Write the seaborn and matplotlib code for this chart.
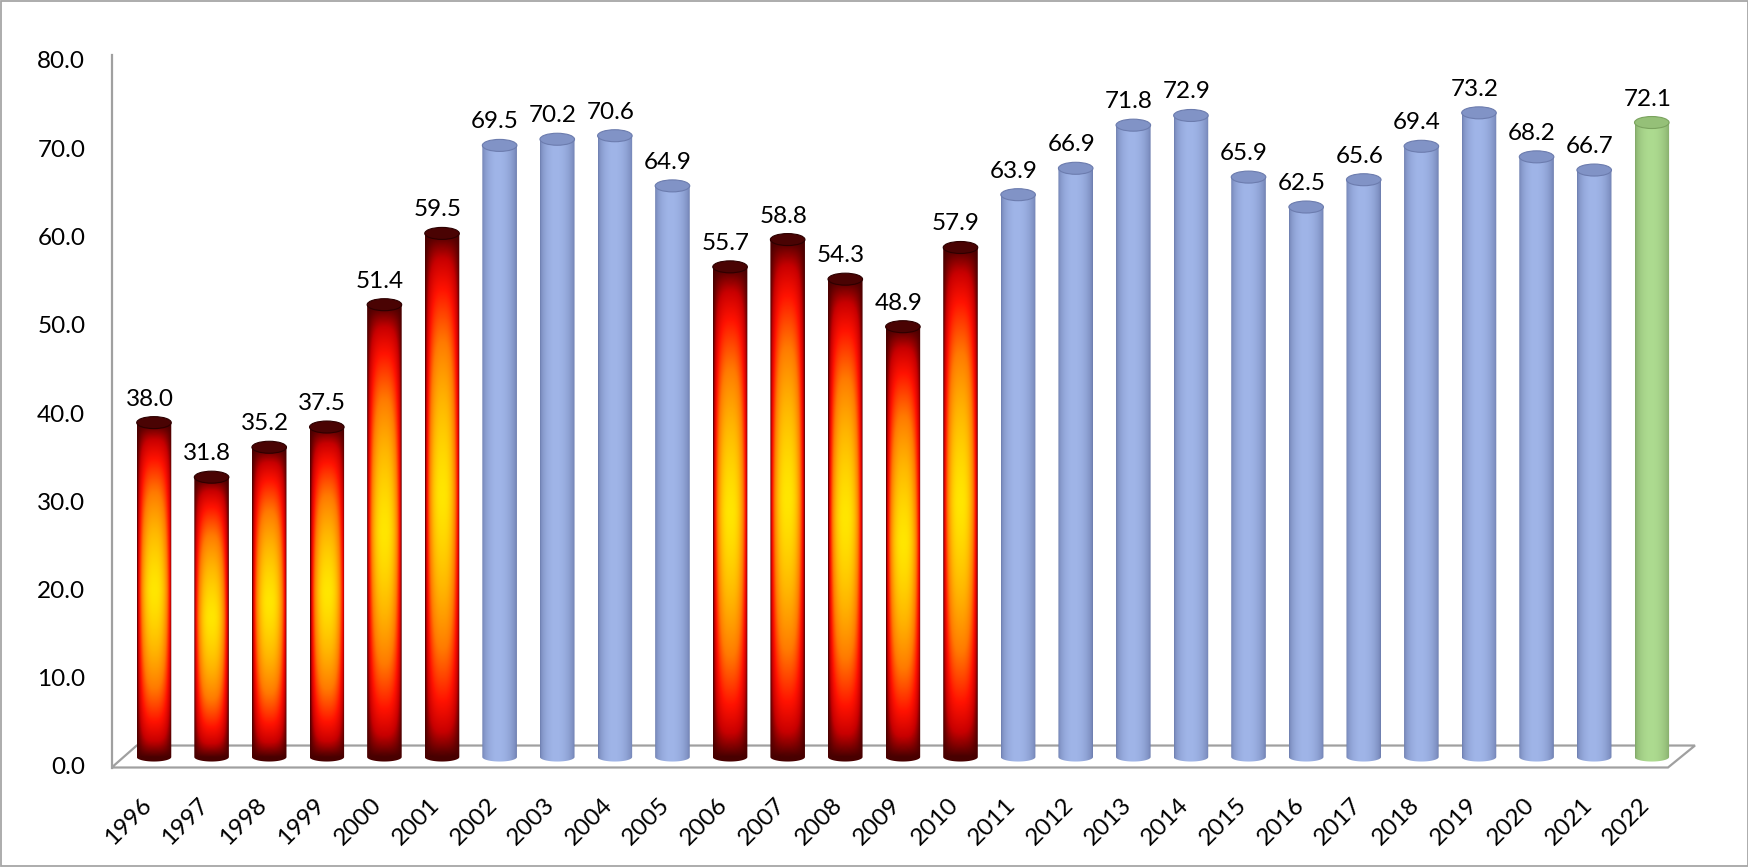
import numpy as np
import pandas as pd
import matplotlib
matplotlib.use("Agg")
import matplotlib.pyplot as plt
import seaborn as sns
from matplotlib.path import Path
from matplotlib.patches import Ellipse, Polygon, Rectangle
from matplotlib.colors import LinearSegmentedColormap, to_rgb

# ---- data -------------------------------------------------------------
years = [str(y) for y in range(1996, 2023)]
values = [38.0, 31.8, 35.2, 37.5, 51.4, 59.5, 69.5, 70.2, 70.6, 64.9,
          55.7, 58.8, 54.3, 48.9, 57.9, 63.9, 66.9, 71.8, 72.9, 65.9,
          62.5, 65.6, 69.4, 73.2, 68.2, 66.7, 72.1]
groups = (["fire"] * 6 + ["blue"] * 4 + ["fire"] * 5 + ["blue"] * 11
          + ["green"])
y_ticks = [0, 10, 20, 30, 40, 50, 60, 70, 80]

# ---- styling ----------------------------------------------------------
BASE = {"fire": "#e01000", "blue": "#8fa3d8", "green": "#a9d18e"}
SIDE = {"blue": ("#6a7aab", "#a0b5e8"), "green": ("#7ea364", "#addb90")}
CAP = {"fire": ("#4a0303", "#2c0000"), "blue": ("#8193c6", "#6c7cae"),
       "green": ("#95c078", "#7aa35e")}
FIRE = LinearSegmentedColormap.from_list(
    "fire_cyl", [(0.0, "#ffe600"), (0.22, "#ffb400"), (0.45, "#ff7a00"),
                 (0.70, "#ff1200"), (0.86, "#c80000"), (1.0, "#480000")])
GRID = "#a0a0a0"
CAP_PX = 6.0          # half height of the top caps, in pixels
BOTTOM_PX = 4.5       # half height of the rounded bottoms, in pixels
FS = 17.5

sns.set_theme(style="white")
plt.rcParams["font.family"] = ["Lato", "DejaVu Sans"]

W, H = 1749, 867
fig = plt.figure(figsize=(W / 100, H / 100), dpi=100)
AX_L, AX_R, AX_B, AX_T = 111.7, 1695, 767.5, 53   # plot box in pixels
rect = [AX_L / W, 1 - AX_B / H, (AX_R - AX_L) / W, (AX_B - AX_T) / H]

# front plane: value axis, category labels
axf = fig.add_axes(rect)
# plot area for the cylinders
ax = fig.add_axes(rect, facecolor="none")

df = pd.DataFrame({"year": years, "value": values, "group": groups})
sns.barplot(data=df, x="year", y="value", hue="year",
            palette=[BASE[g] for g in groups], legend=False,
            width=0.6, saturation=1, ax=ax, linewidth=0, zorder=2)

XLIM = (-0.734, 26.75)
YLIM = (-1.19, 80.0)
ax.set_xlim(*XLIM)
ax.set_ylim(*YLIM)

px_y = ax.transData.transform((0, 1))[1] - ax.transData.transform((0, 0))[1]
px_x = ax.transData.transform((1, 0))[0] - ax.transData.transform((0, 0))[0]
b = CAP_PX / px_y
bb = BOTTOM_PX / px_y


def side_image(group, h, nx=80, ny=400):
    u = np.linspace(0, 1, nx)[None, :]
    yy = np.linspace(-bb, h, ny)[:, None]
    v = np.clip(yy / h, 0, 1)
    if group == "fire":
        th = np.abs(u - 0.5) / 0.5
        tv = np.abs(v - 0.5) / 0.5
        d = 1 - (1 - tv ** 1.5) * (1 - th ** 2.6)
        return FIRE(np.clip(d, 0, 1))[..., :3]
    dark, light = (np.array(to_rgb(c)) for c in SIDE[group])
    p = np.clip(np.sin(np.pi * (u ** 0.9)), 0, 1) ** 0.55
    p = np.repeat(p, ny, axis=0)[..., None]
    return dark + (light - dark) * p


for patch in ax.patches:
    x0, w, h = patch.get_x(), patch.get_width(), patch.get_height()
    cx = x0 + w / 2
    g = groups[int(round(cx))]
    a = w / 2
    t = np.linspace(np.pi, 2 * np.pi, 60)
    verts = ([(x0, h)] + list(zip(cx + a * np.cos(t), bb * np.sin(t)))
             + [(x0 + w, h), (x0, h)])
    codes = [Path.MOVETO] + [Path.LINETO] * (len(verts) - 2) + [Path.CLOSEPOLY]
    body = Path(verts, codes)
    patch.set_visible(False)
    im = ax.imshow(side_image(g, h), extent=(x0, x0 + w, -bb, h),
                   origin="lower", aspect="auto", interpolation="bilinear",
                   zorder=3)
    im.set_clip_path(body, ax.transData)
    face, edge = CAP[g]
    ax.add_patch(Ellipse((cx, h), width=w, height=2 * b, facecolor=face,
                         edgecolor=edge, lw=0.8, zorder=4))
    ax.annotate(f"{h:.1f}", xy=(cx, h), xytext=(-4.5, 17),
                textcoords="offset pixels", ha="center", va="baseline",
                fontsize=FS, color="black", zorder=5)

# floor of the plot area
back = 11.5 / px_y
floor = Polygon([(XLIM[0], YLIM[0]), (XLIM[1] - 27 / px_x, YLIM[0]),
                 (XLIM[1], back), (XLIM[0] + 25 / px_x, back)],
                closed=True, facecolor="white", edgecolor=GRID, lw=1.6,
                zorder=1, clip_on=False)
ax.add_patch(floor)

ax.set_xlim(*XLIM)
ax.set_ylim(*YLIM)
ax.set_xticks([])
ax.set_yticks([])
ax.set_xlabel("")
ax.set_ylabel("")
for s in ax.spines.values():
    s.set_visible(False)

# front plane axes
front_px = 8.825
fy0 = -1.5 / front_px
axf.set_ylim(fy0, fy0 + (AX_B - AX_T) / front_px)
cat_px = (1668 - AX_L) / len(years)
axf.set_xlim(-0.5, -0.5 + (AX_R - AX_L) / cat_px)
axf.set_yticks(y_ticks, labels=[f"{v:.1f}" for v in y_ticks])
axf.set_xticks(range(len(years)), labels=years, rotation=45, ha="right",
               va="top", rotation_mode="anchor")
axf.tick_params(axis="y", length=0, pad=19, labelsize=FS, colors="black")
axf.tick_params(axis="x", length=0, pad=19, labelsize=FS, colors="black")
for k in ("top", "right", "bottom"):
    axf.spines[k].set_visible(False)
axf.spines["left"].set_color(GRID)
axf.spines["left"].set_linewidth(1.6)
axf.spines["left"].set_bounds(fy0, 80.6)
axf.grid(False)
axf.set_facecolor("white")

fig.add_artist(Rectangle((0.0006, 0.001), 0.9986, 0.9978,
                         transform=fig.transFigure, fill=False,
                         edgecolor="#a6a6a6", lw=1.3))

fig.savefig("out.png", dpi=100, facecolor="white")
